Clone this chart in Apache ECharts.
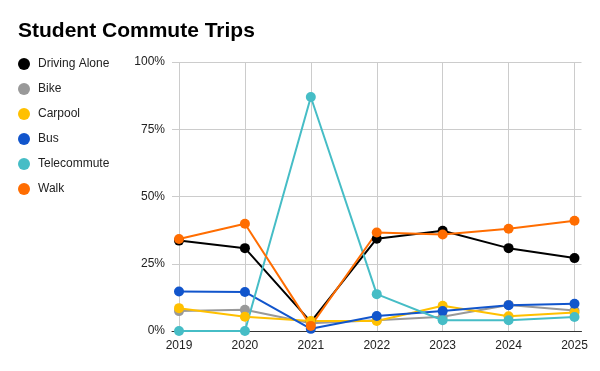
<!DOCTYPE html>
<html>
<head>
<meta charset="utf-8">
<script src="https://cdn.jsdelivr.net/npm/echarts@6/dist/echarts.min.js"></script>
<style>
html,body{margin:0;padding:0;background:#fff;}
#chart{width:600px;height:371px;}
</style>
</head>
<body>
<div id="chart"></div>
<script>
const years = [2019, 2020, 2021, 2022, 2023, 2024, 2025];
const yTicks = [0, 25, 50, 75, 100];
const seriesNames = ["Driving Alone", "Bike", "Carpool", "Bus", "Telecommute", "Walk"];
const drivingAlone = [33.6, 30.8, 3.4, 34.3, 37.3, 30.8, 27.1];
const bike = [7.4, 7.9, 2.9, 4.0, 5.3, 9.7, 7.6];
const carpool = [8.5, 5.3, 3.7, 3.7, 9.4, 5.5, 6.9];
const bus = [14.7, 14.5, 0.8, 5.6, 7.4, 9.6, 10.1];
const telecommute = [0, 0, 87.0, 13.7, 4.0, 4.0, 5.2];
const walk = [34.2, 39.9, 1.9, 36.6, 35.9, 38.0, 41.0];
const colors = ["#000000", "#999999", "#ffc000", "#1155cc", "#46bdc6", "#ff6d01"];
const allValues = [drivingAlone, bike, carpool, bus, telecommute, walk];

const font = "'Liberation Sans', Arial, sans-serif";
const chart = echarts.init(document.getElementById('chart'), null, {renderer: 'canvas'});
chart.setOption({
  animation: false,
  backgroundColor: '#ffffff',
  title: {
    text: 'Student Commute Trips',
    left: 18, top: 21, padding: 0,
    textStyle: {fontFamily: font, fontSize: 21, fontWeight: 'bold', color: '#000'}
  },
  legend: {
    orient: 'vertical', left: 18, top: 58, padding: 0,
    itemWidth: 12, itemHeight: 12, itemGap: 13,
    icon: 'circle',
    textStyle: {fontFamily: font, fontSize: 12, color: '#222', padding: [0,0,0,3]},
    data: seriesNames
  },
  grid: {left: 172, right: 18.5, top: 62, bottom: 40, containLabel: false},
  xAxis: {
    type: 'value',
    min: 2019 - 0.1063, max: 2025 + 0.1063,
    axisLine: {show: true, lineStyle: {color: '#333', width: 1}},
    axisTick: {show: false, customValues: years},
    axisLabel: {customValues: years, color: '#222', fontFamily: font, fontSize: 12, margin: 9, formatter: v => String(Math.round(v))},
    splitLine: {show: true, lineStyle: {color: '#cccccc', width: 1}}
  },
  yAxis: {
    type: 'value', min: 0, max: 100, interval: 25,
    axisLine: {show: false},
    axisTick: {show: false},
    axisLabel: {color: '#222', fontFamily: font, fontSize: 12, margin: 7, formatter: '{value}%'},
    splitLine: {show: true, lineStyle: {color: '#cccccc', width: 1}}
  },
  series: seriesNames.map((name, i) => ({
    name: name,
    type: 'line',
    data: years.map((y, j) => [y, allValues[i][j]]),
    color: colors[i],
    symbol: 'circle',
    symbolSize: 10,
    lineStyle: {width: 2},
    clip: false
  }))
});
</script>
</body>
</html>
